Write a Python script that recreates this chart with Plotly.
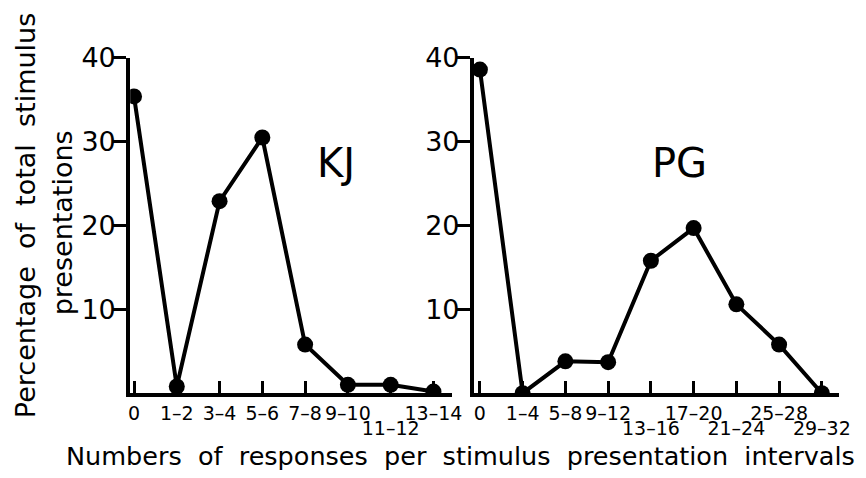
import plotly.graph_objects as go

# ---- data ----
kj_categories = ["0", "1–2", "3–4", "5–6", "7–8", "9–10", "11–12", "13–14"]
kj_values = [35.4, 0.8, 22.9, 30.5, 5.8, 1.0, 1.0, 0.2]
kj_lower_labels = ["11–12"]

pg_categories = ["0", "1–4", "5–8", "9–12", "13–16", "17–20", "21–24", "25–28", "29–32"]
pg_values = [38.6, 0.0, 3.8, 3.7, 15.8, 19.7, 10.6, 5.8, 0.0]
pg_lower_labels = ["13–16", "21–24", "29–32"]

y_ticks = [10, 20, 30, 40]

FONT = "DejaVu Sans"
W, H = 866, 478
OFF = 8  # page body margin offset


def px_x(p):
    return (p - OFF) / W


def px_y(p):
    return 1 - (p - OFF) / H


fig = go.Figure()

kj_x = list(range(len(kj_categories)))
pg_x = list(range(len(pg_categories)))

line_style = dict(color="black", width=4)
marker_style = dict(color="black", size=16)

fig.add_trace(go.Scatter(x=kj_x, y=kj_values, mode="lines+markers", line=line_style,
                         marker=marker_style, xaxis="x", yaxis="y", cliponaxis=True,
                         showlegend=False))
fig.add_trace(go.Scatter(x=pg_x, y=pg_values, mode="lines+markers", line=line_style,
                         marker=marker_style, xaxis="x2", yaxis="y2", cliponaxis=True,
                         showlegend=False))
# invisible carriers for the second row of tick labels
fig.add_trace(go.Scatter(x=kj_x, y=kj_values, mode="markers", marker=dict(opacity=0),
                         xaxis="x3", yaxis="y", hoverinfo="skip", showlegend=False))
fig.add_trace(go.Scatter(x=pg_x, y=pg_values, mode="markers", marker=dict(opacity=0),
                         xaxis="x4", yaxis="y2", hoverinfo="skip", showlegend=False))

ydom = [px_y(390), px_y(43)]
kj_dom = [px_x(130), px_x(457)]
pg_dom = [px_x(479), px_x(850)]
kj_range = [-0.09, 7.44]
pg_range = [-0.14, 8.41]


def upper(cats, lower):
    return [c if c not in lower else "" for c in cats]


def lower_only(cats, lower):
    return [c if c in lower else "" for c in cats]


tick_font = dict(family=FONT, size=19, color="black")
common_x = dict(showgrid=False, zeroline=False, showline=True, linecolor="black",
                linewidth=4, ticks="inside", ticklen=12, tickwidth=3, tickcolor="black",
                tickfont=tick_font, tickmode="array", tickangle=0, ticklabelstandoff=0)
lower_x = dict(showgrid=False, zeroline=False, showline=False, ticks="",
               tickfont=tick_font, tickmode="array", tickangle=0, ticklabelstandoff=22)
common_y = dict(showgrid=False, zeroline=False, showline=True, linecolor="black",
                linewidth=4, ticks="outside", ticklen=13, tickwidth=3, tickcolor="black",
                tickfont=dict(family=FONT, size=27, color="black"), tickmode="array",
                tickvals=y_ticks, ticktext=[str(v) for v in y_ticks], range=[0, 40],
                domain=ydom, ticklabelstandoff=-8)

fig.update_layout(
    width=W, height=H, margin=dict(l=0, r=0, t=0, b=0),
    paper_bgcolor="white", plot_bgcolor="white",
    xaxis=dict(domain=kj_dom, range=kj_range, anchor="y",
               tickvals=kj_x, ticktext=upper(kj_categories, kj_lower_labels), **common_x),
    yaxis=dict(anchor="x", **common_y),
    xaxis2=dict(domain=pg_dom, range=pg_range, anchor="y2",
                tickvals=pg_x, ticktext=upper(pg_categories, pg_lower_labels), **common_x),
    yaxis2=dict(anchor="x2", **common_y),
    xaxis3=dict(domain=kj_dom, range=kj_range, anchor="y", overlaying="x",
                tickvals=kj_x, ticktext=lower_only(kj_categories, kj_lower_labels), **lower_x),
    xaxis4=dict(domain=pg_dom, range=pg_range, anchor="y2", overlaying="x2",
                tickvals=pg_x, ticktext=lower_only(pg_categories, pg_lower_labels), **lower_x),
)

annotations = [
    dict(text="KJ", x=px_x(339), y=px_y(152), xref="paper", yref="paper",
         showarrow=False, font=dict(family=FONT, size=40, color="black"),
         xanchor="center", yanchor="middle"),
    dict(text="PG", x=px_x(688), y=px_y(152), xref="paper", yref="paper",
         showarrow=False, font=dict(family=FONT, size=40, color="black"),
         xanchor="center", yanchor="middle"),
    dict(text="Numbers  of  responses  per  stimulus  presentation  intervals",
         x=px_x(465), y=px_y(455), xref="paper", yref="paper",
         showarrow=False, font=dict(family=FONT, size=25.5, color="black"),
         xanchor="center", yanchor="middle"),
    dict(text="Percentage  of  total  stimulus", textangle=-90,
         x=px_x(24), y=px_y(206), xref="paper", yref="paper",
         showarrow=False, font=dict(family=FONT, size=27, color="black"),
         xanchor="center", yanchor="middle"),
    dict(text="presentations", textangle=-90,
         x=px_x(61), y=px_y(214), xref="paper", yref="paper",
         showarrow=False, font=dict(family=FONT, size=27, color="black"),
         xanchor="center", yanchor="middle"),
]
fig.update_layout(annotations=annotations)

fig.write_html("out.html")
